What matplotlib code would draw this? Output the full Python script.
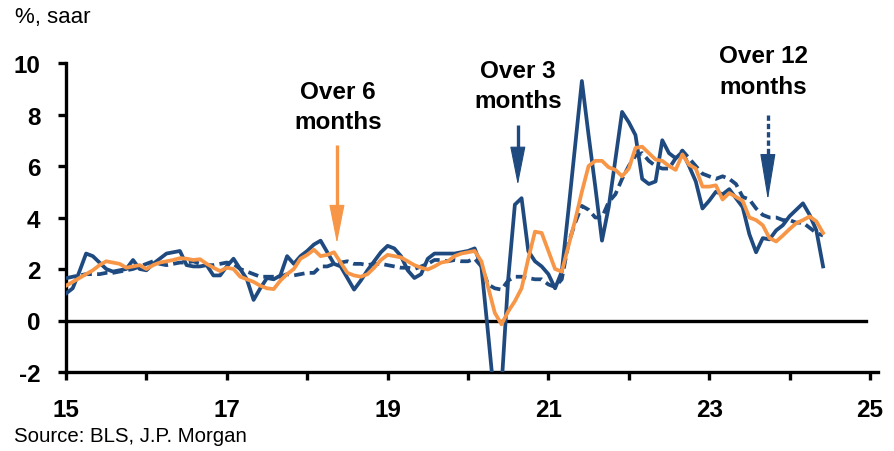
import matplotlib
matplotlib.use("Agg")
import matplotlib.pyplot as plt
import numpy as np

# Core inflation, monthly Jan 2015 - Jun 2024, % saar
start_year = 15

three_month = [
    1.05, 1.25, 1.9, 2.6, 2.5, 2.25, 2.0, 1.9, 1.95, 2.0, 2.35, 2.0,      # 2015
    1.95, 2.2, 2.4, 2.6, 2.65, 2.7, 2.15, 2.1, 2.1, 2.15, 1.75, 1.75,     # 2016
    2.1, 2.4, 2.0, 1.6, 0.8, 1.25, 1.65, 1.6, 1.75, 2.5, 2.2, 2.5,        # 2017
    2.7, 2.95, 3.1, 2.65, 2.2, 2.1, 1.65, 1.2, 1.55, 1.95, 2.3, 2.65,     # 2018
    2.9, 2.8, 2.5, 1.95, 1.65, 1.8, 2.4, 2.6, 2.6, 2.6, 2.6, 2.65,        # 2019
    2.7, 2.8, 2.1, -0.5, -3.2, -2.6, 1.6, 4.5, 4.75, 2.7, 2.3, 2.1,       # 2020
    1.8, 1.25, 1.9, 4.3, 6.8, 9.3, 7.2, 5.2, 3.1, 4.4, 6.25, 8.1,         # 2021
    7.7, 7.2, 5.5, 5.3, 5.4, 7.0, 6.5, 6.3, 6.55, 6.0, 5.4, 4.35,         # 2022
    4.65, 5.0, 4.9, 5.1, 4.75, 4.4, 3.35, 2.65, 3.2, 3.15, 3.5, 3.7,      # 2023
    4.05, 4.3, 4.55, 4.1, 3.5, 2.1,                                       # 2024
]

six_month = [
    1.35, 1.5, 1.65, 1.8, 1.95, 2.15, 2.3, 2.25, 2.2, 2.05, 2.1, 2.15,
    2.0, 2.15, 2.25, 2.3, 2.35, 2.42, 2.4, 2.35, 2.38, 2.2, 2.05, 1.92,
    2.05, 2.0, 1.7, 1.6, 1.5, 1.35, 1.25, 1.22, 1.55, 1.8, 2.0, 2.4,
    2.55, 2.75, 2.5, 2.55, 2.65, 2.25, 1.85, 1.75, 1.7, 1.8, 2.05, 2.35,
    2.55, 2.5, 2.45, 2.3, 2.15, 2.05, 1.98, 2.1, 2.25, 2.3, 2.5, 2.6,
    2.65, 2.7, 2.3, 1.3, 0.3, -0.15, 0.35, 0.75, 1.25, 2.4, 3.45, 3.4,
    2.7, 2.0, 1.9, 2.9, 3.9, 5.0, 6.0, 6.2, 6.2, 5.95, 5.85, 5.6,
    5.9, 6.7, 6.75, 6.5, 6.25, 6.2, 6.0, 5.85, 6.45, 6.05, 5.9, 5.2,
    5.2, 5.25, 4.7, 4.95, 4.8, 4.65, 4.0, 3.9, 3.7, 3.2, 3.07, 3.3,
    3.55, 3.78, 3.9, 4.04, 3.85, 3.4,
]

twelve_month = [
    1.64, 1.7, 1.75, 1.8, 1.8, 1.8, 1.85, 1.85, 1.9, 1.95, 2.0, 2.1,
    2.2, 2.3, 2.2, 2.15, 2.2, 2.25, 2.25, 2.3, 2.2, 2.15, 2.15, 2.2,
    2.25, 2.2, 2.0, 1.9, 1.8, 1.7, 1.7, 1.7, 1.7, 1.8, 1.75, 1.8,
    1.85, 1.85, 2.1, 2.1, 2.2, 2.25, 2.3, 2.2, 2.2, 2.15, 2.2, 2.2,
    2.15, 2.1, 2.05, 2.05, 2.0, 2.1, 2.2, 2.35, 2.35, 2.3, 2.35, 2.3,
    2.3, 2.4, 2.1, 1.4, 1.25, 1.2, 1.55, 1.7, 1.7, 1.65, 1.6, 1.6,
    1.4, 1.3, 1.6, 3.0, 3.8, 4.45, 4.3, 4.0, 4.0, 4.6, 4.9, 5.5,
    6.0, 6.4, 6.5, 6.2, 6.0, 5.9, 5.9, 6.3, 6.6, 6.3, 6.0, 5.7,
    5.6, 5.5, 5.6, 5.5, 5.3, 4.8, 4.7, 4.35, 4.1, 4.0, 4.0, 3.9,
    3.9, 3.8, 3.8, 3.6, 3.4, 3.3,
]

x_ticks = list(range(15, 26))
x_tick_labels = ['15', '', '17', '', '19', '', '21', '', '23', '', '25']
y_ticks = [-2, 0, 2, 4, 6, 8, 10]
y_tick_labels = ['-2', '0', '2', '4', '6', '8', '10']

BLUE = '#1F4A80'
ORANGE = '#F79646'
FONT = ['Liberation Sans', 'DejaVu Sans']

months = start_year + np.arange(len(three_month)) / 12

fig = plt.figure(figsize=(8.94, 4.52), dpi=100)
ax = fig.add_axes([66 / 894, 1 - 373 / 452, (878 - 66) / 894, (373 - 64) / 452])
ax.set_xlim(15, 25.1)
ax.set_ylim(-2, 10)

# zero reference line
ax.axhline(0, xmin=0, xmax=(24.95 - 15) / 10.1, color='black', lw=2.4, zorder=2)

ax.plot(months, twelve_month, color=BLUE, lw=2.7, ls=(0, (2.8, 1.4)),
        dash_capstyle='butt', zorder=3)
ax.plot(months, three_month, color=BLUE, lw=2.7, zorder=4)
ax.plot(months, six_month, color=ORANGE, lw=2.7, zorder=5)

for side in ('top', 'right'):
    ax.spines[side].set_visible(False)
for side in ('left', 'bottom'):
    ax.spines[side].set_linewidth(2.4)
    ax.spines[side].set_color('black')

ax.set_xticks(x_ticks)
ax.set_xticklabels(x_tick_labels)
ax.set_yticks(y_ticks)
ax.set_yticklabels(y_tick_labels)
ax.tick_params(axis='both', direction='out', length=5.5, width=2.4, color='black')
ax.tick_params(axis='x', pad=13)
ax.tick_params(axis='y', pad=13)
for lab in ax.get_xticklabels() + ax.get_yticklabels():
    lab.set_family(FONT)
    lab.set_fontweight('bold')
    lab.set_fontsize(17.5)

# annotations
def draw_arrow(x, y_top, y_tip, color, head_px, linestyle='-'):
    tip = ax.transData.transform((x, y_tip))
    _, y_base = ax.transData.inverted().transform(tip + np.array([0, head_px]))
    ax.plot([x, x], [y_top, y_base], color=color, lw=2.4, ls=linestyle,
            solid_capstyle='butt', dash_capstyle='butt', clip_on=False, zorder=6)
    hl = head_px * 72 / 100
    ax.annotate('', xy=(x, y_tip), xytext=(x, y_base),
                arrowprops=dict(arrowstyle=f'-|>,head_length={hl},head_width=5',
                                mutation_scale=1, color=color, lw=0.8,
                                shrinkA=0, shrinkB=0), zorder=6)

def label(x, y, text):
    ax.text(x, y, text, ha='center', va='center', fontsize=17.5,
            fontweight='bold', family=FONT, linespacing=1.4)

label(18.38, 8.3, 'Over 6\nmonths')
draw_arrow(18.37, 6.82, 3.0, ORANGE, 35)

label(20.62, 9.12, 'Over 3\nmonths')
draw_arrow(20.62, 7.6, 5.26, BLUE, 35)

label(23.67, 9.69, 'Over 12\nmonths')
draw_arrow(23.73, 8.0, 4.68, BLUE, 42, linestyle=(0, (1.6, 0.9)))

fig.text(15 / 894, 1 - 17 / 452, '%, saar', fontsize=16, family=FONT,
         ha='left', va='center')
fig.text(14 / 894, 1 - 437 / 452, 'Source: BLS, J.P. Morgan', fontsize=14.7,
         family=FONT, ha='left', va='center')

fig.savefig('out.png', dpi=100)
